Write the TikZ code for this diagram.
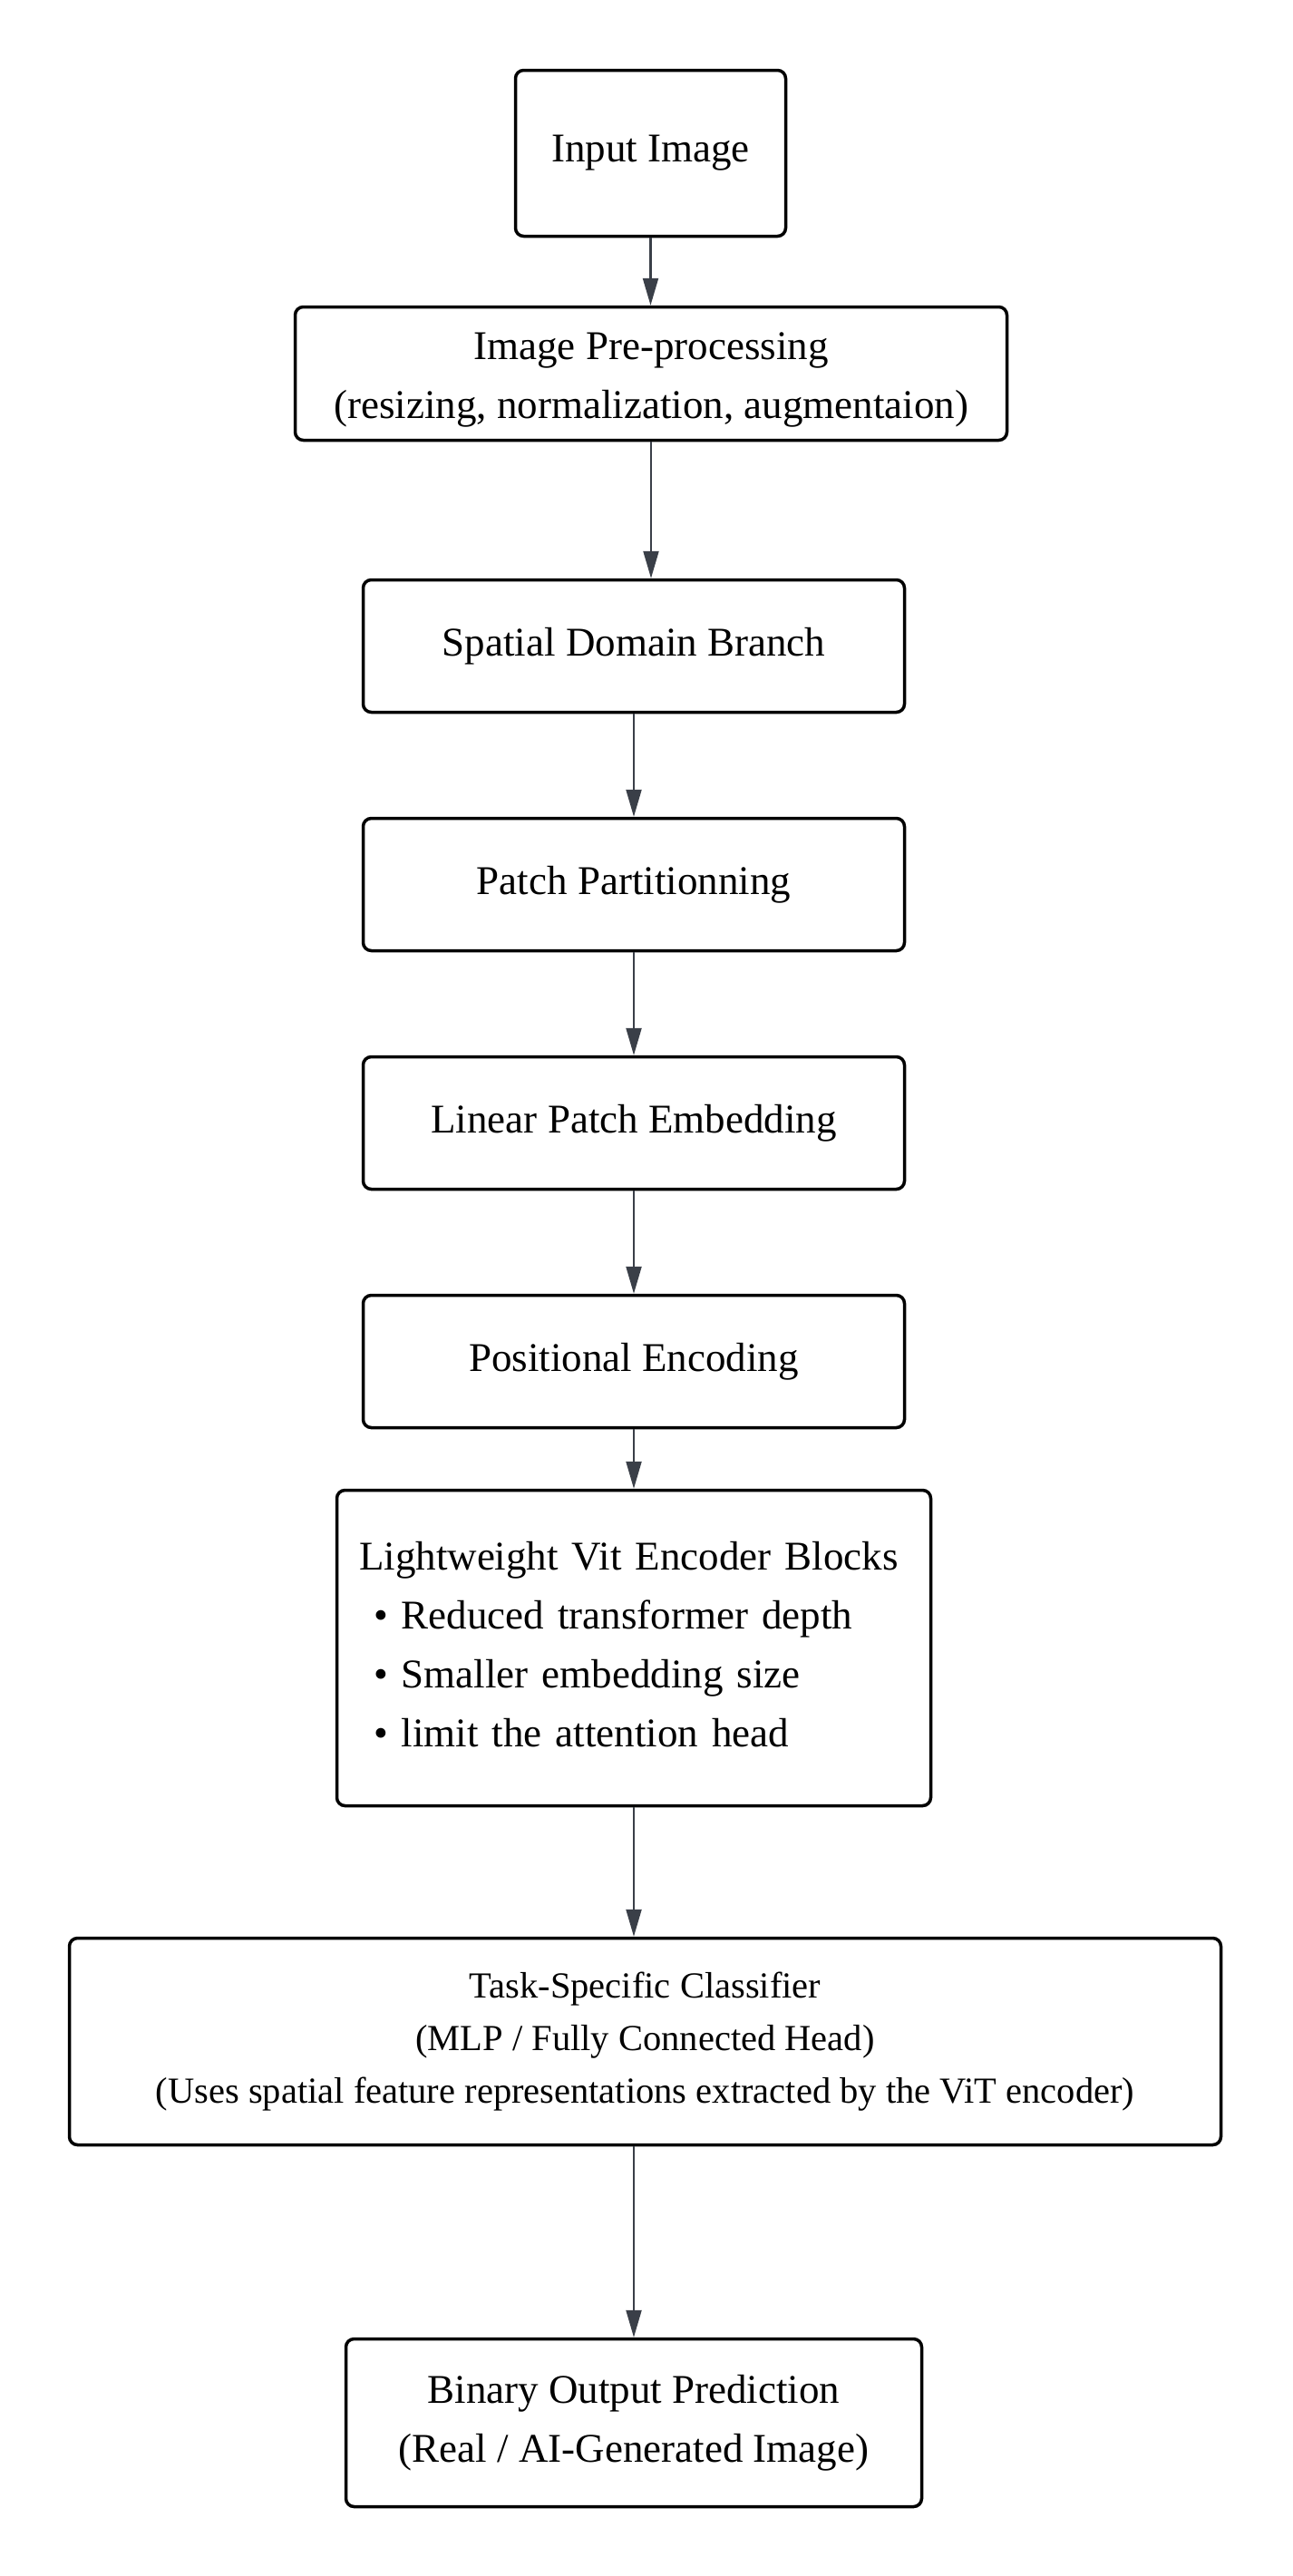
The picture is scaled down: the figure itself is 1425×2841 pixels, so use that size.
\documentclass[tikz,border=0pt]{standalone}
\usepackage{fontspec}
\setmainfont{Liberation Serif}
\usetikzlibrary{arrows.meta}
\definecolor{arrowc}{HTML}{3A3F48}
\begin{document}
\begin{tikzpicture}[x=1pt,y=-1pt,
  box/.style={draw=black, line width=3.5pt, rounded corners=9pt, fill=white, inner sep=0pt, align=center, font=\fontsize{45}{65}\selectfont},
  conn/.style={draw=arrowc, line width=2.2pt, -{Triangle[length=30pt,width=17pt]}}]
\useasboundingbox[fill=white] (0,0) rectangle (1425,2841);

\node[box, minimum width=298pt, minimum height=183pt] (b1) at (717.5,169) {Input Image};
\node[box, minimum width=785pt, minimum height=147pt] (b2) at (718,412) {\rule{0pt}{44pt}Image Pre-processing\\(resizing, normalization, augmentaion)};
\node[box, minimum width=597pt, minimum height=146pt] (b3) at (699,712.5) {Spatial Domain Branch};
\node[box, minimum width=597pt, minimum height=146pt] (b4) at (699,975.5) {Patch Partitionning};
\node[box, minimum width=597pt, minimum height=146pt] (b5) at (699,1238.5) {Linear Patch Embedding};
\node[box, minimum width=597pt, minimum height=146pt] (b6) at (699,1501.5) {Positional Encoding};
\node[box, minimum width=655pt, minimum height=348pt, align=left, text width=606pt] (b7) at (699,1817.5)
  {Lightweight Vit Encoder Blocks\\
   \hspace*{16pt}• Reduced transformer depth\\
   \hspace*{16pt}• Smaller embedding size\\
   \hspace*{16pt}• limit the attention head\rule[-8pt]{0pt}{8pt}};
\node[box, minimum width=1270pt, minimum height=228pt, font=\fontsize{40.5}{58}\selectfont] (b8) at (711.5,2251.5)
  {Task-Specific Classifier\\(MLP / Fully Connected Head)\\(Uses spatial feature representations extracted by the ViT encoder)};
\node[box, minimum width=635pt, minimum height=185pt] (b9) at (699,2672) {Binary Output Prediction\\(Real / AI-Generated Image)};

\draw[conn] (b1.south) -- (b1.south |- b2.north);
\draw[conn] (b2.south) -- (b2.south |- b3.north);
\draw[conn] (b3.south) -- (b4.north);
\draw[conn] (b4.south) -- (b5.north);
\draw[conn] (b5.south) -- (b6.north);
\draw[conn] (b6.south) -- (b7.north);
\draw[conn] (b7.south) -- (b7.south |- b8.north);
\draw[conn] (b9.north |- b8.south) -- (b9.north);
\end{tikzpicture}
\end{document}
